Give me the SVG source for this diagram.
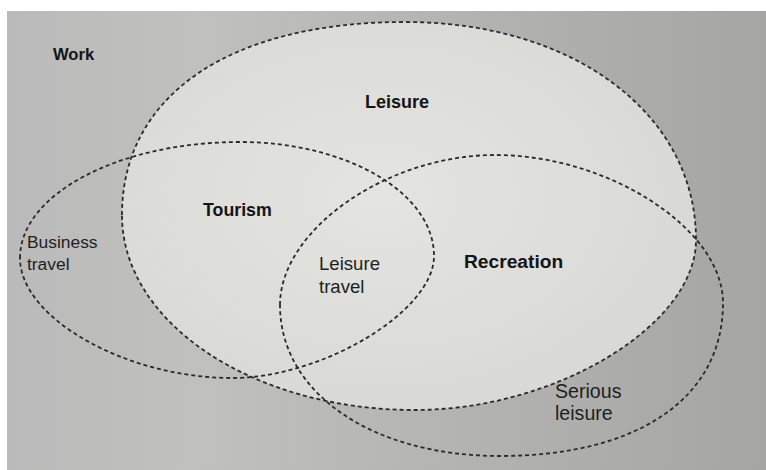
<svg xmlns="http://www.w3.org/2000/svg" width="766" height="470" viewBox="0 0 766 470">
  <defs>
    <linearGradient id="bg" x1="0" y1="0" x2="1" y2="0">
      <stop offset="0" stop-color="#bababa"/>
      <stop offset="0.25" stop-color="#c0c0be"/>
      <stop offset="0.6" stop-color="#b3b3b1"/>
      <stop offset="1" stop-color="#a5a5a3"/>
    </linearGradient>
    <radialGradient id="lf" cx="0.45" cy="0.45" r="0.6">
      <stop offset="0" stop-color="#e4e4e0"/>
      <stop offset="1" stop-color="#d8d8d4"/>
    </radialGradient>
    <style>
      .outline { fill: none; stroke: #2a2a2a; stroke-width: 1.8; stroke-dasharray: 4 3; }
      .bold { font-family: "Liberation Sans", Arial, sans-serif; font-weight: bold; fill: #141414; }
      .reg { font-family: "Liberation Sans", Arial, sans-serif; fill: #1e1e1e; }
    </style>
  </defs>

  <rect x="0" y="0" width="766" height="470" fill="#ffffff"/>
  <rect x="7" y="11" width="759" height="459" fill="url(#bg)"/>

  <g id="leisure">
    <path d="M122,215 C122,95 230,22 405,22 C574,22 696,114 696,240 C696,325 556,410 415,410 C253,410 122,323 122,215 Z" fill="url(#lf)"/>
    <path class="outline" d="M122,215 C122,95 230,22 405,22 C574,22 696,114 696,240 C696,325 556,410 415,410 C253,410 122,323 122,215 Z"/>
    <text class="bold" x="365" y="108" font-size="18">Leisure</text>
  </g>

  <g id="tourism">
    <path class="outline" d="M20,258 C20,194 119,142 240,142 C347,142 434,193 434,256 C434,311 323,378 232,378 C126,378 20,318 20,258 Z"/>
    <text class="bold" x="203" y="216" font-size="17.8">Tourism</text>
  </g>

  <g id="recreation">
    <path class="outline" d="M280,305 C280,230 387,155 495,155 C609,155 723,229 723,303 C723,398 638,456 500,456 C372,456 280,393 280,305 Z"/>
    <text class="bold" x="464" y="268" font-size="19.2">Recreation</text>
  </g>

  <g id="work">
    <text class="bold" x="53" y="60" font-size="16.6">Work</text>
  </g>

  <g id="business-travel">
    <text class="reg" x="27" y="248" font-size="17.4">Business</text>
    <text class="reg" x="27" y="270" font-size="17.4">travel</text>
  </g>

  <g id="leisure-travel">
    <text class="reg" x="319" y="270" font-size="18.6">Leisure</text>
    <text class="reg" x="319" y="293" font-size="18.6">travel</text>
  </g>

  <g id="serious-leisure">
    <text class="reg" x="555" y="398" font-size="19.6">Serious</text>
    <text class="reg" x="555" y="420" font-size="19.6">leisure</text>
  </g>

  <g id="connectors"/>
</svg>
